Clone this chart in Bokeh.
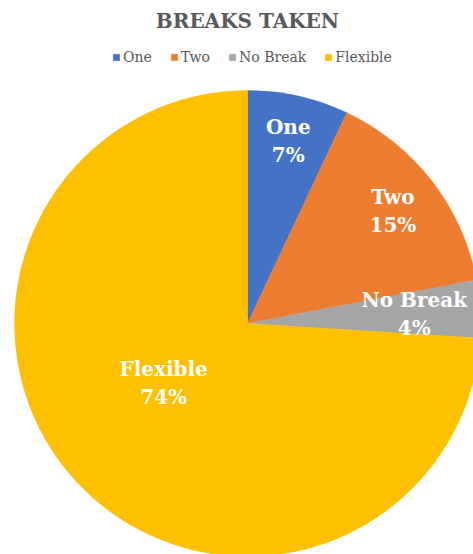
import math
from bokeh.plotting import figure
from bokeh.models import ColumnDataSource, Range1d, Legend, LegendItem
from bokeh.core.properties import value
from bokeh.embed import file_html
from bokeh.resources import INLINE

# Data
categories = ["One", "Two", "No Break", "Flexible"]
shares = [7, 15, 4, 74]
colors = ["#4472C4", "#ED7D31", "#A5A5A5", "#FFC000"]
title_text = "BREAKS TAKEN"

W, H = 473, 554
FONT = "DejaVu Serif"
p = figure(width=W, height=H, output_backend="svg", toolbar_location=None,
           x_range=Range1d(0, W), y_range=Range1d(0, H), min_border=0,
           background_fill_color="white", border_fill_color="white")
p.axis.visible = False
p.grid.visible = False
p.outline_line_color = None

cx, cy, R = 247, H - 323, 233
total = sum(shares)
starts, ends, mids = [], [], []
cum = 0
for v in shares:
    a0 = math.pi / 2 - cum / total * 2 * math.pi
    cum += v
    a1 = math.pi / 2 - cum / total * 2 * math.pi
    starts.append(a0)
    ends.append(a1)
    mids.append((a0 + a1) / 2)

src = ColumnDataSource(dict(cat=categories, val=shares, color=colors,
                            start=starts, end=ends))
wr = p.wedge(x=cx, y=cy, radius=R, start_angle="start", end_angle="end",
             direction="clock", fill_color="color", line_color="color",
             line_width=0.5, source=src)

# Data labels
label_r = [187, 184, 167, 103]
angle_adj = [0, 0, -0.5, -7.7]
lx, ly, names, pcts = [], [], [], []
for i, (c, v) in enumerate(zip(categories, shares)):
    a = mids[i] + math.radians(angle_adj[i])
    lx.append(cx + label_r[i] * math.cos(a))
    ly.append(cy + label_r[i] * math.sin(a))
    names.append(c)
    pcts.append(f"{round(v / total * 100)}%")
lsrc = ColumnDataSource(dict(x=lx, y=ly, name=names, pct=pcts))
for col, off in (("name", -14), ("pct", 14)):
    p.text(x="x", y="y", text=col, source=lsrc, y_offset=off,
           text_align="center", text_baseline="middle", text_color="white",
           text_font=value(FONT), text_font_style="bold",
           text_font_size="20px")

# Title
p.text(x=[247], y=[H - 20], text=[title_text], text_align="center",
       text_baseline="middle", text_color="#595959",
       text_font=value(FONT), text_font_style="bold",
       text_font_size="20px")

# Legend
items = [LegendItem(label=c, renderers=[wr], index=i) for i, c in enumerate(categories)]
leg = Legend(items=items, orientation="horizontal", location=(112, H - 65),
             glyph_width=8, glyph_height=8, label_text_font_size="14px",
             label_text_font="'DejaVu Serif', serif", label_text_color="#595959",
             label_standoff=3, spacing=18, padding=0, margin=0,
             border_line_color=None, background_fill_alpha=0,
             label_height=16, label_width=10)
p.add_layout(leg)

open("out.html", "w").write(file_html(p, INLINE))
